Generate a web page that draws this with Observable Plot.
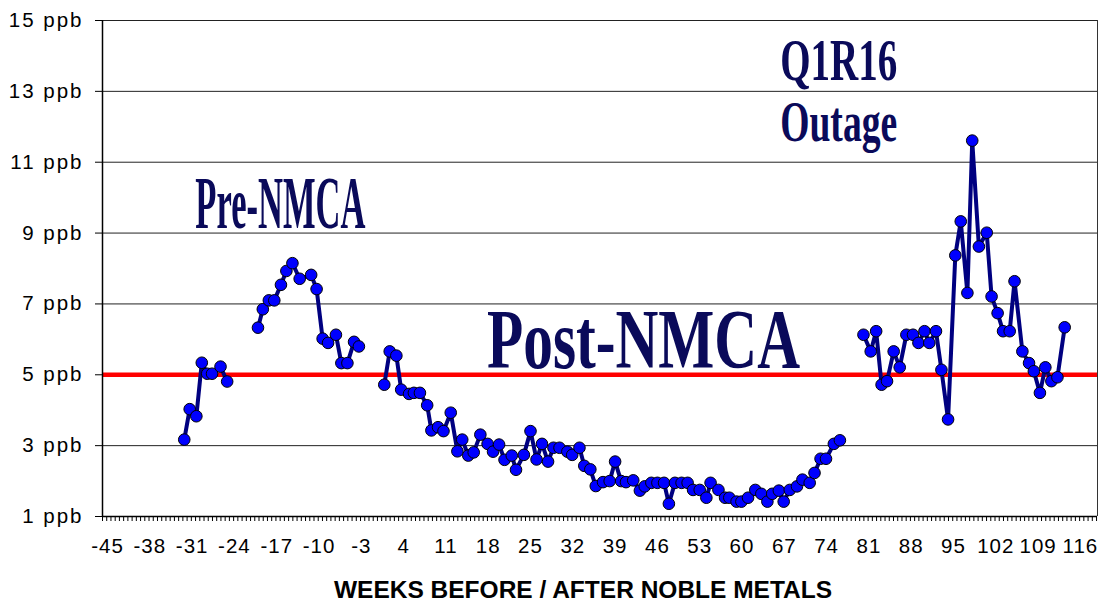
<!DOCTYPE html>
<html><head><meta charset="utf-8">
<script src="https://cdn.jsdelivr.net/npm/d3@7"></script>
<script src="https://cdn.jsdelivr.net/npm/@observablehq/plot@0.6"></script>
<style>html,body{margin:0;padding:0;background:#fff}#chart svg{display:block}</style>
</head><body><div id="chart"></div>
<script>
// ---- data ----
const seg1Weeks = [-32.3, -31.4, -30.3, -29.4, -28.5, -27.7, -26.3, -25.2];
const seg1Ppb   = [3.17, 4.03, 3.83, 5.34, 5.03, 5.03, 5.23, 4.81];

const seg2Weeks = [-20.1, -19.3, -18.3, -17.4, -16.3, -15.4, -14.4, -13.2, -11.3, -10.4, -9.4, -8.5, -7.2, -6.3, -5.3, -4.2, -3.4];
const seg2Ppb   = [6.33, 6.85, 7.10, 7.10, 7.54, 7.93, 8.15, 7.71, 7.82, 7.42, 6.02, 5.90, 6.13, 5.33, 5.33, 5.93, 5.80];

const seg3Weeks = [0.8,1.7,2.8,3.6,4.9,5.7,6.7,7.9,8.6,9.7,10.6,11.8,12.9,13.7,14.7,15.6,16.7,17.9,18.8,19.8,20.7,21.9,22.6,23.9,25.0,26.0,26.9,27.9,28.8,29.8,31.1,31.9,33.1,33.9,34.9,35.8,37.0,38.1,39.0,40.0,40.8,42.0,43.1,43.9,45.0,46.0,47.1,47.9,48.9,50.0,51.0,51.9,53.0,54.1,54.8,56.1,57.2,57.9,59.1,59.9,61.0,62.2,63.2,64.2,65.0,66.1,66.9,67.9,69.1,70.0,71.2,72.0,73.0,73.9,75.2,76.2];
const seg3Ppb   = [4.72,5.66,5.54,4.58,4.46,4.49,4.49,4.14,3.43,3.52,3.41,3.93,2.84,3.17,2.72,2.81,3.31,3.05,2.83,3.03,2.60,2.72,2.32,2.74,3.41,2.61,3.05,2.55,2.94,2.94,2.83,2.74,2.94,2.43,2.33,1.86,1.97,2.00,2.55,2.00,1.97,2.02,1.73,1.85,1.95,1.95,1.95,1.36,1.95,1.95,1.95,1.75,1.75,1.53,1.95,1.75,1.53,1.53,1.42,1.42,1.53,1.75,1.64,1.42,1.64,1.73,1.42,1.75,1.85,2.04,1.95,2.23,2.63,2.63,3.05,3.15];

const seg4Weeks = [80.1,81.3,82.2,83.1,84.0,85.1,86.1,87.2,88.3,89.2,90.2,91.0,92.1,93.0,94.1,95.3,96.2,97.3,98.1,99.2,100.5,101.3,102.3,103.2,104.3,105.1,106.4,107.5,108.3,109.3,110.2,111.2,112.2,113.4];
const seg4Ppb   = [6.13,5.66,6.23,4.72,4.82,5.66,5.21,6.13,6.13,5.90,6.23,5.90,6.23,5.14,3.74,8.37,9.33,7.31,11.61,8.62,9.01,7.21,6.74,6.23,6.23,7.64,5.66,5.33,5.10,4.49,5.21,4.82,4.93,6.34];

const targetPpb = [5];
const yTicks = [1, 3, 5, 7, 9, 11, 13, 15];
const xTicks = [-45,-38,-31,-24,-17,-10,-3,4,11,18,25,32,39,46,53,60,67,74,81,88,95,102,109,116];
const xTitle = "WEEKS BEFORE / AFTER NOBLE METALS";
const notes = ["Pre-NMCA", "Post-NMCA", "Q1R16", "Outage"];

// ---- table for the library ----
const segs = [[seg1Weeks, seg1Ppb], [seg2Weeks, seg2Ppb], [seg3Weeks, seg3Ppb], [seg4Weeks, seg4Ppb]];
const data = segs.flatMap(([w, v], i) => w.map((d, j) => ({week: d, ppb: v[j], segment: i})));

const xMin = -45.83, xMax = 118.83;
const minorTicks = d3.range(xMin, xMax, 0.7);
const serif = "'Liberation Serif', 'Times New Roman', serif";
const noteFill = "#0a0a5a";
const yLabel = d => `${d} ppb`;

const chart = Plot.plot({
  width: 1102, height: 601,
  marginLeft: 102, marginRight: 5, marginTop: 20, marginBottom: 85,
  style: {background: "#fff", fontFamily: "'Liberation Sans', Arial, sans-serif", fontSize: "20.5px", color: "#000"},
  x: {domain: [xMin, xMax]},
  y: {domain: [1, 15]},
  marks: [
    Plot.ruleY(yTicks.slice(1), {stroke: "#222", strokeWidth: 1}),
    Plot.ruleX([xMax], {stroke: "#333", strokeWidth: 1}),
    Plot.ruleY(targetPpb, {stroke: "#ff0000", strokeWidth: 4.5}),
    Plot.line(data, {x: "week", y: "ppb", z: "segment", stroke: "#000080", strokeWidth: 4}),
    Plot.dot(data, {x: "week", y: "ppb", r: 5.8, fill: "#0000ff", stroke: "#000", strokeWidth: 1}),
    Plot.axisY(yTicks, {tickSize: 7, tickPadding: 12, tickFormat: yLabel, label: null}),
    Plot.axisX(minorTicks, {tickSize: 5, tickFormat: () => "", label: null}),
    Plot.axisX(xTicks, {tickSize: 0, tickPadding: 22, tickFormat: d => String(d), label: null}),
    Plot.ruleX([xMin], {stroke: "#000", strokeWidth: 1.5}),
    Plot.ruleY([1], {stroke: "#000", strokeWidth: 1.5}),
    Plot.text([xTitle], {frameAnchor: "bottom", dy: 81, dx: -17, fontWeight: "bold", fontSize: 24.5}),
    Plot.text([notes[0]], {x: -16.4, y: 9.13, lineAnchor: "bottom", fontSize: 74, fontWeight: "bold", fontFamily: serif, fill: noteFill}),
    Plot.text([notes[1]], {x: 43.7, y: 5.18, lineAnchor: "bottom", fontSize: 85, fontWeight: "bold", fontFamily: serif, fill: noteFill}),
    Plot.text([notes[2]], {x: 76.0, y: 13.31, lineAnchor: "bottom", fontSize: 60, fontWeight: "bold", fontFamily: serif, fill: noteFill}),
    Plot.text([notes[3]], {x: 76.0, y: 11.61, lineAnchor: "bottom", fontSize: 58, fontWeight: "bold", fontFamily: serif, fill: noteFill})
  ]
});

// condense the annotation lettering like the original; widen the axis lettering slightly
const fit = {"Pre-NMCA": 170, "Post-NMCA": 313, "Q1R16": 117, "Outage": 117};
const yLabels = new Set(yTicks.map(yLabel));
const xLabels = new Set(xTicks.map(String));
d3.select(chart).selectAll("text").each(function () {
  const t = this.textContent;
  if (fit[t]) {
    this.setAttribute("textLength", fit[t]);
    this.setAttribute("lengthAdjust", "spacingAndGlyphs");
  } else if (yLabels.has(t)) {
    this.style.letterSpacing = "2px";
  } else if (xLabels.has(t)) {
    this.style.letterSpacing = "1px";
  }
});

document.getElementById("chart").appendChild(chart);
</script>
</body></html>
